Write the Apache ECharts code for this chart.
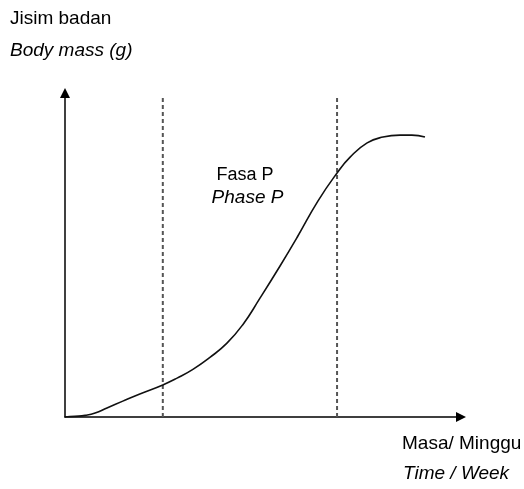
<!DOCTYPE html>
<html>
<head>
<meta charset="utf-8">
<script src="https://cdn.jsdelivr.net/npm/echarts@6/dist/echarts.min.js"></script>
<style>
html,body{margin:0;padding:0;background:#fff;}
#chart{width:524px;height:489px;}
</style>
</head>
<body>
<div id="chart"></div>
<script>
// Time (arbitrary units 0-100) and body mass (arbitrary units 0-100)
var timeValues = [0, 2.5, 5.1, 7.6, 10.6, 14.6, 18.9, 24.7, 28.3, 32.3, 36.6, 40.9, 44.9, 49.2, 54.3, 58.6, 63.9, 68.7, 72.0, 76.3, 80.3, 84.6, 87.6, 90.9];
var massValues = [0, 0.2, 0.5, 1.2, 2.8, 4.9, 7.1, 9.9, 12.0, 14.7, 18.4, 22.8, 28.5, 36.6, 46.6, 55.4, 66.7, 75.3, 80.2, 84.6, 86.4, 87.0, 87.0, 86.4];
var phaseStart = 24.7;
var phaseEnd = 68.7;
var dashTop = 98.8;
var yLabels = ['Jisim badan', 'Body mass (g)'];
var xLabels = ['Masa/ Minggu', 'Time / Week'];
var phaseLabels = ['Fasa P', 'Phase P'];

var curve = timeValues.map(function (t, i) { return [t, massValues[i]]; });

var chart = echarts.init(document.getElementById('chart'), null, {renderer: 'canvas'});
var FONT = 'Liberation Sans, Arial, sans-serif';
var option = {
  backgroundColor: '#ffffff',
  animation: false,
  grid: {left: 65, right: 63, top: 93, bottom: 72, containLabel: false},
  xAxis: {
    type: 'value', min: 0, max: 100,
    axisLine: {show: true, onZero: false, symbol: ['none', 'triangle'], symbolSize: [10, 10],
      lineStyle: {color: '#000', width: 1.5}},
    axisTick: {show: false}, axisLabel: {show: false}, splitLine: {show: false}
  },
  yAxis: {
    type: 'value', min: 0, max: 100,
    axisLine: {show: true, onZero: false, symbol: ['none', 'triangle'], symbolSize: [10, 10],
      lineStyle: {color: '#000', width: 1.5}},
    axisTick: {show: false}, axisLabel: {show: false}, splitLine: {show: false}
  },
  series: [
    {
      type: 'line', data: [[phaseStart, 0], [phaseStart, dashTop]], symbol: 'none',
      lineStyle: {color: '#555', width: 2, type: [4, 3]}, z: 1
    },
    {
      type: 'line', data: [[phaseEnd, 0], [phaseEnd, dashTop]], symbol: 'none',
      lineStyle: {color: '#555', width: 2, type: [4, 3]}, z: 1
    },
    {
      type: 'line', data: curve, symbol: 'none', smooth: 0.5,
      lineStyle: {color: '#111', width: 1.6}, z: 3
    }
  ],
  graphic: [
    {type: 'text', x: 10, y: 18.5, style: {text: yLabels[0], font: '19px ' + FONT, fill: '#000', textAlign: 'left', textVerticalAlign: 'middle'}},
    {type: 'text', x: 10, y: 50.5, style: {text: yLabels[1], font: 'italic 19px ' + FONT, fill: '#000', textAlign: 'left', textVerticalAlign: 'middle'}},
    {type: 'text', x: 402, y: 443.5, style: {text: xLabels[0], font: '19px ' + FONT, fill: '#000', textAlign: 'left', textVerticalAlign: 'middle'}},
    {type: 'text', x: 403, y: 473.5, style: {text: xLabels[1], font: 'italic 19px ' + FONT, fill: '#000', textAlign: 'left', textVerticalAlign: 'middle'}},
    {type: 'text', x: 245, y: 175.5, style: {text: phaseLabels[0], font: '18px ' + FONT, fill: '#000', textAlign: 'center', textVerticalAlign: 'middle'}},
    {type: 'text', x: 247.5, y: 197.5, style: {text: phaseLabels[1], font: 'italic 19px ' + FONT, fill: '#000', textAlign: 'center', textVerticalAlign: 'middle'}}
  ]
};
chart.setOption(option);
</script>
</body>
</html>
